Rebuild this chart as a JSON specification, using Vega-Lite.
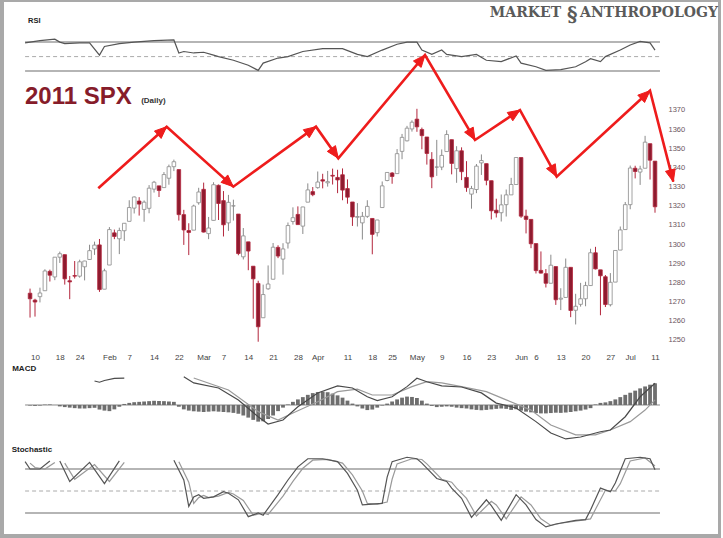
{
"$schema": "https://vega.github.io/schema/vega-lite/v6.json",
"background": "#a9a9a9",
"padding": {"left": 4, "top": 2, "right": 3, "bottom": 4},
"autosize": {"type": "pad"},
"bounds": "flush",
"spacing": 0,
"config": {"view": {"stroke": null, "fill": "white"}, "font": "Liberation Sans", "scale": {"continuousPadding": 0}, "axis": {"grid": false, "labelOverlap": false}},
"datasets": {
"ohlc": [
{"t":4,"o":1274.4,"h":1276.8,"l":1261.7,"c":1271.5},{"t":5,"o":1270.8,"h":1271.5,"l":1262.2,"c":1269.8},{"t":6,"o":1272.6,"h":1277.3,"l":1269.6,"c":1274.5},{"t":7,"o":1275.7,"h":1286.9,"l":1275.7,"c":1286.0},{"t":8,"o":1285.8,"h":1286.7,"l":1280.5,"c":1283.8},{"t":9,"o":1282.9,"h":1293.2,"l":1281.2,"c":1293.2},{"t":10,"o":1293.2,"h":1296.1,"l":1290.2,"c":1295.0},{"t":11,"o":1294.5,"h":1294.6,"l":1278.9,"c":1281.9},{"t":12,"o":1280.9,"h":1283.4,"l":1271.3,"c":1280.3},{"t":13,"o":1283.6,"h":1291.2,"l":1282.1,"c":1283.3},{"t":14,"o":1283.3,"h":1291.9,"l":1282.5,"c":1290.8},{"t":15,"o":1288.2,"h":1291.3,"l":1281.1,"c":1291.2},{"t":16,"o":1292.0,"h":1299.7,"l":1292.0,"c":1296.6},{"t":17,"o":1297.5,"h":1301.3,"l":1294.4,"c":1299.5},{"t":18,"o":1299.6,"h":1302.7,"l":1275.1,"c":1276.3},{"t":19,"o":1276.5,"h":1287.2,"l":1276.5,"c":1286.1},{"t":20,"o":1289.1,"h":1308.9,"l":1289.1,"c":1307.6},{"t":21,"o":1305.9,"h":1307.6,"l":1302.6,"c":1304.0},{"t":22,"o":1302.8,"h":1308.6,"l":1294.8,"c":1307.1},{"t":23,"o":1307.0,"h":1311.0,"l":1301.7,"c":1310.9},{"t":24,"o":1311.9,"h":1322.9,"l":1311.9,"c":1319.1},{"t":25,"o":1318.8,"h":1324.9,"l":1316.0,"c":1324.6},{"t":26,"o":1322.5,"h":1324.5,"l":1314.9,"c":1320.9},{"t":27,"o":1318.1,"h":1322.8,"l":1311.7,"c":1321.9},{"t":28,"o":1318.7,"h":1330.8,"l":1316.1,"c":1329.2},{"t":29,"o":1328.7,"h":1333.0,"l":1326.9,"c":1332.3},{"t":30,"o":1330.4,"h":1330.4,"l":1324.6,"c":1328.0},{"t":31,"o":1329.5,"h":1337.6,"l":1329.5,"c":1336.3},{"t":32,"o":1334.4,"h":1341.5,"l":1331.0,"c":1340.4},{"t":33,"o":1340.4,"h":1344.1,"l":1338.1,"c":1343.0},{"t":34,"o":1338.9,"h":1338.9,"l":1312.3,"c":1315.4},{"t":35,"o":1315.4,"h":1317.9,"l":1299.6,"c":1307.4},{"t":36,"o":1307.1,"h":1310.9,"l":1294.3,"c":1306.1},{"t":37,"o":1307.3,"h":1320.6,"l":1307.3,"c":1319.9},{"t":38,"o":1321.6,"h":1329.4,"l":1320.6,"c":1327.2},{"t":39,"o":1328.6,"h":1332.1,"l":1306.1,"c":1306.3},{"t":40,"o":1305.5,"h":1314.2,"l":1302.6,"c":1308.4},{"t":41,"o":1312.4,"h":1332.3,"l":1312.4,"c":1331.0},{"t":42,"o":1330.7,"h":1331.1,"l":1312.6,"c":1321.2},{"t":43,"o":1322.7,"h":1327.7,"l":1304.0,"c":1310.1},{"t":44,"o":1311.1,"h":1325.7,"l":1306.9,"c":1321.8},{"t":45,"o":1319.9,"h":1323.2,"l":1312.3,"c":1320.0},{"t":46,"o":1315.7,"h":1315.7,"l":1294.2,"c":1295.1},{"t":47,"o":1293.4,"h":1308.4,"l":1292.0,"c":1304.3},{"t":48,"o":1301.2,"h":1301.2,"l":1286.4,"c":1296.4},{"t":49,"o":1288.5,"h":1288.5,"l":1261.1,"c":1281.9},{"t":50,"o":1279.5,"h":1280.9,"l":1249.1,"c":1256.9},{"t":51,"o":1261.6,"h":1278.9,"l":1261.6,"c":1273.7},{"t":52,"o":1276.7,"h":1288.9,"l":1276.2,"c":1279.2},{"t":53,"o":1281.7,"h":1300.6,"l":1281.7,"c":1298.4},{"t":54,"o":1298.3,"h":1299.4,"l":1292.7,"c":1293.8},{"t":55,"o":1292.2,"h":1300.5,"l":1284.1,"c":1297.5},{"t":56,"o":1300.6,"h":1311.3,"l":1297.7,"c":1309.7},{"t":57,"o":1311.8,"h":1319.2,"l":1310.2,"c":1313.8},{"t":58,"o":1315.5,"h":1319.7,"l":1310.2,"c":1310.2},{"t":59,"o":1309.4,"h":1319.5,"l":1305.3,"c":1319.4},{"t":60,"o":1321.9,"h":1331.7,"l":1321.9,"c":1328.3},{"t":61,"o":1327.4,"h":1329.8,"l":1325.0,"c":1325.8},{"t":62,"o":1329.5,"h":1337.9,"l":1328.9,"c":1332.4},{"t":63,"o":1333.6,"h":1336.7,"l":1329.1,"c":1332.9},{"t":64,"o":1332.0,"h":1338.2,"l":1330.0,"c":1332.6},{"t":65,"o":1335.9,"h":1339.4,"l":1331.1,"c":1335.5},{"t":66,"o":1334.8,"h":1338.8,"l":1326.6,"c":1333.5},{"t":67,"o":1336.2,"h":1339.5,"l":1322.9,"c":1328.2},{"t":68,"o":1329.0,"h":1333.8,"l":1321.1,"c":1324.5},{"t":69,"o":1322.0,"h":1322.0,"l":1309.5,"c":1314.2},{"t":70,"o":1314.0,"h":1321.4,"l":1309.2,"c":1314.4},{"t":71,"o":1311.1,"h":1316.8,"l":1302.4,"c":1314.5},{"t":72,"o":1314.5,"h":1322.9,"l":1313.7,"c":1319.7},{"t":73,"o":1313.4,"h":1313.4,"l":1294.7,"c":1305.1},{"t":74,"o":1306.0,"h":1312.7,"l":1304.0,"c":1312.6},{"t":75,"o":1319.1,"h":1332.7,"l":1319.1,"c":1330.4},{"t":76,"o":1333.2,"h":1337.5,"l":1332.8,"c":1337.4},{"t":77,"o":1337.1,"h":1337.6,"l":1331.5,"c":1335.3},{"t":78,"o":1336.8,"h":1349.6,"l":1336.8,"c":1347.2},{"t":79,"o":1348.4,"h":1357.5,"l":1344.3,"c":1355.7},{"t":80,"o":1353.9,"h":1361.7,"l":1353.6,"c":1360.5},{"t":81,"o":1360.1,"h":1364.6,"l":1358.7,"c":1363.6},{"t":82,"o":1365.2,"h":1370.6,"l":1358.6,"c":1361.2},{"t":83,"o":1359.8,"h":1360.8,"l":1349.5,"c":1356.6},{"t":84,"o":1355.9,"h":1355.9,"l":1341.5,"c":1347.3},{"t":85,"o":1344.2,"h":1348.0,"l":1329.2,"c":1335.1},{"t":86,"o":1340.2,"h":1354.4,"l":1335.6,"c":1340.2},{"t":87,"o":1340.2,"h":1349.4,"l":1338.6,"c":1346.3},{"t":88,"o":1348.3,"h":1359.4,"l":1348.3,"c":1357.2},{"t":89,"o":1354.5,"h":1354.5,"l":1336.4,"c":1342.1},{"t":90,"o":1339.4,"h":1351.1,"l":1332.0,"c":1348.7},{"t":91,"o":1348.7,"h":1350.5,"l":1333.4,"c":1337.8},{"t":92,"o":1334.8,"h":1343.3,"l":1327.3,"c":1329.5},{"t":93,"o":1326.1,"h":1330.4,"l":1318.5,"c":1329.0},{"t":94,"o":1328.5,"h":1341.8,"l":1326.6,"c":1340.7},{"t":95,"o":1342.4,"h":1346.8,"l":1336.1,"c":1343.6},{"t":96,"o":1342.0,"h":1342.0,"l":1330.7,"c":1333.3},{"t":97,"o":1333.1,"h":1333.1,"l":1312.9,"c":1317.4},{"t":98,"o":1317.7,"h":1323.7,"l":1313.9,"c":1316.3},{"t":99,"o":1316.4,"h":1325.9,"l":1311.8,"c":1320.5},{"t":100,"o":1320.6,"h":1328.5,"l":1314.4,"c":1325.7},{"t":101,"o":1325.7,"h":1334.6,"l":1325.7,"c":1331.1},{"t":102,"o":1331.1,"h":1345.2,"l":1331.1,"c":1345.2},{"t":103,"o":1345.2,"h":1345.2,"l":1313.7,"c":1314.6},{"t":104,"o":1314.6,"h":1318.0,"l":1305.6,"c":1312.9},{"t":105,"o":1312.9,"h":1312.9,"l":1297.9,"c":1300.2},{"t":106,"o":1300.3,"h":1300.3,"l":1284.7,"c":1286.2},{"t":107,"o":1286.3,"h":1296.2,"l":1284.7,"c":1284.9},{"t":108,"o":1284.6,"h":1287.0,"l":1277.4,"c":1279.6},{"t":109,"o":1279.6,"h":1294.5,"l":1279.6,"c":1289.0},{"t":110,"o":1288.3,"h":1288.3,"l":1268.3,"c":1271.0},{"t":111,"o":1271.3,"h":1277.0,"l":1265.6,"c":1271.8},{"t":112,"o":1272.2,"h":1292.5,"l":1272.2,"c":1287.9},{"t":113,"o":1287.9,"h":1287.9,"l":1261.9,"c":1265.4},{"t":114,"o":1265.5,"h":1274.1,"l":1258.1,"c":1267.6},{"t":115,"o":1268.6,"h":1279.8,"l":1267.4,"c":1271.5},{"t":116,"o":1271.5,"h":1280.4,"l":1267.6,"c":1278.4},{"t":117,"o":1278.4,"h":1297.6,"l":1278.4,"c":1295.5},{"t":118,"o":1295.5,"h":1298.6,"l":1286.8,"c":1287.1},{"t":119,"o":1286.6,"h":1286.6,"l":1262.9,"c":1283.5},{"t":120,"o":1283.0,"h":1283.9,"l":1267.2,"c":1268.5},{"t":121,"o":1268.4,"h":1284.9,"l":1267.5,"c":1280.1},{"t":122,"o":1280.2,"h":1296.8,"l":1280.2,"c":1296.7},{"t":123,"o":1296.9,"h":1309.2,"l":1296.9,"c":1307.4},{"t":124,"o":1307.6,"h":1322.0,"l":1307.6,"c":1320.6},{"t":125,"o":1320.6,"h":1341.0,"l":1318.2,"c":1339.7},{"t":126,"o":1339.6,"h":1340.9,"l":1334.3,"c":1337.9},{"t":127,"o":1337.6,"h":1340.9,"l":1330.9,"c":1339.2},{"t":128,"o":1339.6,"h":1356.5,"l":1339.6,"c":1353.2},{"t":129,"o":1352.4,"h":1352.4,"l":1333.7,"c":1343.8},{"t":130,"o":1343.3,"h":1343.3,"l":1316.4,"c":1319.5}
],
"rsi": [
{"t":3,"v":69},{"t":6,"v":72},{"t":9,"v":74},{"t":10,"v":70},{"t":11,"v":68},{"t":14,"v":69},{"t":16,"v":69},{"t":18,"v":52},{"t":19,"v":64},{"t":22,"v":68},{"t":25,"v":70},{"t":29,"v":72},{"t":33,"v":73},{"t":34,"v":55},{"t":35,"v":57},{"t":37,"v":55},{"t":39,"v":56},{"t":41,"v":52},{"t":42,"v":50},{"t":45,"v":45},{"t":48,"v":38},{"t":50,"v":31},{"t":51,"v":41},{"t":54,"v":48},{"t":56,"v":50},{"t":59,"v":57},{"t":63,"v":61},{"t":67,"v":61},{"t":70,"v":53},{"t":72,"v":50},{"t":75,"v":59},{"t":78,"v":67},{"t":80,"v":70},{"t":82,"v":70},{"t":83,"v":59},{"t":85,"v":53},{"t":87,"v":59},{"t":88,"v":53},{"t":91,"v":50},{"t":94,"v":53},{"t":96,"v":45},{"t":99,"v":43},{"t":102,"v":51},{"t":103,"v":41},{"t":106,"v":36},{"t":108,"v":31},{"t":111,"v":32},{"t":114,"v":36},{"t":116,"v":43},{"t":117,"v":47},{"t":119,"v":43},{"t":120,"v":50},{"t":123,"v":59},{"t":125,"v":66},{"t":127,"v":71},{"t":129,"v":69},{"t":130,"v":59}
],
"macd": [
{"s":1,"t":17,"v":13.7},{"s":1,"t":18,"v":13.0},{"s":1,"t":19,"v":14.0},{"s":1,"t":21,"v":15.2},{"s":1,"t":23,"v":15.3},
{"s":2,"t":35,"v":16.2},{"s":2,"t":37,"v":12.6},{"s":2,"t":42,"v":9.7},{"s":2,"t":46,"v":2.9},{"s":2,"t":50,"v":-6.7},{"s":2,"t":52,"v":-10.9},{"s":2,"t":55,"v":-8.6},{"s":2,"t":58,"v":-1.0},{"s":2,"t":62,"v":6.9},{"s":2,"t":66,"v":10.9},{"s":2,"t":69,"v":9.7},{"s":2,"t":72,"v":4.7},{"s":2,"t":74,"v":2.5},{"s":2,"t":77,"v":4.7},{"s":2,"t":80,"v":10.5},{"s":2,"t":82,"v":15.3},{"s":2,"t":84,"v":13.3},{"s":2,"t":87,"v":10.9},{"s":2,"t":91,"v":10.3},{"s":2,"t":95,"v":6.9},{"s":2,"t":98,"v":1.1},{"s":2,"t":102,"v":-1.7},{"s":2,"t":106,"v":-9.5},{"s":2,"t":109,"v":-16.0},{"s":2,"t":112,"v":-19.4},{"s":2,"t":115,"v":-18.3},{"s":2,"t":119,"v":-15.3},{"s":2,"t":121,"v":-14.3},{"s":2,"t":124,"v":-6.7},{"s":2,"t":127,"v":4.7},{"s":2,"t":130,"v":12.4}
],
"sig": [
{"t":37,"v":15.4},{"t":44,"v":8.6},{"t":50,"v":-3.8},{"t":54,"v":-8.6},{"t":57,"v":-4.6},{"t":62,"v":1.9},{"t":66,"v":7.6},{"t":70,"v":9.1},{"t":73,"v":5.7},{"t":77,"v":5.7},{"t":81,"v":10.5},{"t":84,"v":13.3},{"t":87,"v":12.6},{"t":91,"v":10.5},{"t":96,"v":7.6},{"t":100,"v":2.9},{"t":105,"v":-2.9},{"t":109,"v":-11.4},{"t":114,"v":-17.1},{"t":118,"v":-17.1},{"t":121,"v":-14.3},{"t":125,"v":-9.5},{"t":128,"v":-2.9},{"t":130,"v":2.9}
],
"hist": [
{"t":4,"v":-0.3},{"t":5,"v":-0.5},{"t":6,"v":-0.3},{"t":7,"v":0.2},{"t":8,"v":0.3},{"t":9,"v":0},{"t":10,"v":-0.8},{"t":11,"v":-1.2},{"t":12,"v":-1.5},{"t":13,"v":-1.8},{"t":14,"v":-2},{"t":15,"v":-2},{"t":16,"v":-1.8},{"t":17,"v":-1.6},{"t":18,"v":-2.6},{"t":19,"v":-3.2},{"t":20,"v":-3.5},{"t":21,"v":-2.5},{"t":22,"v":-1},{"t":23,"v":0.6},{"t":24,"v":1.2},{"t":25,"v":1.6},{"t":26,"v":1.8},{"t":27,"v":2},{"t":28,"v":2.2},{"t":29,"v":2.4},{"t":30,"v":2.3},{"t":31,"v":2.2},{"t":32,"v":2},{"t":33,"v":1.8},{"t":34,"v":-1},{"t":35,"v":-2.5},{"t":36,"v":-3.2},{"t":37,"v":-3.6},{"t":38,"v":-3.8},{"t":39,"v":-4},{"t":40,"v":-3.8},{"t":41,"v":-3.6},{"t":42,"v":-3.8},{"t":43,"v":-4},{"t":44,"v":-4.2},{"t":45,"v":-4.5},{"t":46,"v":-5},{"t":47,"v":-6},{"t":48,"v":-7.2},{"t":49,"v":-8.5},{"t":50,"v":-9.5},{"t":51,"v":-9.3},{"t":52,"v":-8},{"t":53,"v":-6},{"t":54,"v":-3.5},{"t":55,"v":-1.5},{"t":56,"v":0.3},{"t":57,"v":1.8},{"t":58,"v":3.2},{"t":59,"v":4.5},{"t":60,"v":5.8},{"t":61,"v":6.8},{"t":62,"v":7.4},{"t":63,"v":7.6},{"t":64,"v":7.3},{"t":65,"v":6.5},{"t":66,"v":5.5},{"t":67,"v":4.2},{"t":68,"v":2.5},{"t":69,"v":0.8},{"t":70,"v":-0.8},{"t":71,"v":-2},{"t":72,"v":-2.9},{"t":73,"v":-2.6},{"t":74,"v":-1.5},{"t":75,"v":-0.3},{"t":76,"v":0.8},{"t":77,"v":2},{"t":78,"v":3.2},{"t":79,"v":4.2},{"t":80,"v":4.8},{"t":81,"v":4.6},{"t":82,"v":4},{"t":83,"v":2.5},{"t":84,"v":0.8},{"t":85,"v":-0.5},{"t":86,"v":-1.2},{"t":87,"v":-1},{"t":88,"v":-0.8},{"t":89,"v":-1},{"t":90,"v":-1.5},{"t":91,"v":-1.8},{"t":92,"v":-2},{"t":93,"v":-2.5},{"t":94,"v":-2.8},{"t":95,"v":-3},{"t":96,"v":-2.8},{"t":97,"v":-2.5},{"t":98,"v":-2.2},{"t":99,"v":-2},{"t":100,"v":-2.2},{"t":101,"v":-2.8},{"t":102,"v":-2.5},{"t":103,"v":-3.2},{"t":104,"v":-3.8},{"t":105,"v":-4.2},{"t":106,"v":-4.6},{"t":107,"v":-4.8},{"t":108,"v":-4.8},{"t":109,"v":-4.6},{"t":110,"v":-4.4},{"t":111,"v":-4.5},{"t":112,"v":-4.3},{"t":113,"v":-4},{"t":114,"v":-3.6},{"t":115,"v":-3.2},{"t":116,"v":-2.6},{"t":117,"v":-1.8},{"t":118,"v":0.3},{"t":119,"v":1.2},{"t":120,"v":1.5},{"t":121,"v":2.2},{"t":122,"v":3.2},{"t":123,"v":4.5},{"t":124,"v":5.8},{"t":125,"v":7},{"t":126,"v":8.2},{"t":127,"v":9.5},{"t":128,"v":10.6},{"t":129,"v":11.6},{"t":130,"v":12.4}
],
"stk": [
{"s":1,"t":3,"v":90},{"s":1,"t":4,"v":80},{"s":1,"t":6,"v":80},{"s":1,"t":8,"v":91},
{"s":2,"t":10,"v":91},{"s":2,"t":12,"v":63},{"s":2,"t":16,"v":89},{"s":2,"t":19,"v":60},{"s":2,"t":22,"v":91},
{"s":3,"t":33,"v":92},{"s":3,"t":35,"v":65},{"s":3,"t":36,"v":29},{"s":3,"t":37,"v":42},{"s":3,"t":38,"v":45},{"s":3,"t":39,"v":40},{"s":3,"t":41,"v":42},{"s":3,"t":43,"v":49},{"s":3,"t":44,"v":47},{"s":3,"t":46,"v":38},{"s":3,"t":48,"v":15},{"s":3,"t":50,"v":20},{"s":3,"t":51,"v":17},{"s":3,"t":54,"v":45},{"s":3,"t":56,"v":65},{"s":3,"t":58,"v":83},{"s":3,"t":60,"v":94},{"s":3,"t":63,"v":94},{"s":3,"t":66,"v":90},{"s":3,"t":68,"v":74},{"s":3,"t":70,"v":51},{"s":3,"t":71,"v":31},{"s":3,"t":73,"v":32},{"s":3,"t":75,"v":33},{"s":3,"t":76,"v":69},{"s":3,"t":77,"v":90},{"s":3,"t":80,"v":96},{"s":3,"t":82,"v":94},{"s":3,"t":83,"v":88},{"s":3,"t":86,"v":67},{"s":3,"t":88,"v":63},{"s":3,"t":89,"v":54},{"s":3,"t":91,"v":40},{"s":3,"t":93,"v":14},{"s":3,"t":96,"v":38},{"s":3,"t":97,"v":30},{"s":3,"t":99,"v":10},{"s":3,"t":102,"v":45},{"s":3,"t":104,"v":31},{"s":3,"t":106,"v":11},{"s":3,"t":108,"v":1},{"s":3,"t":110,"v":5},{"s":3,"t":114,"v":10},{"s":3,"t":116,"v":11},{"s":3,"t":117,"v":24},{"s":3,"t":119,"v":54},{"s":3,"t":121,"v":49},{"s":3,"t":122,"v":61},{"s":3,"t":124,"v":94},{"s":3,"t":127,"v":96},{"s":3,"t":129,"v":94},{"s":3,"t":130,"v":79}
],
"std": [
{"s":1,"t":4,"v":88},{"s":1,"t":5,"v":82},{"s":1,"t":7,"v":80},{"s":1,"t":9,"v":89},
{"s":2,"t":11,"v":88},{"s":2,"t":13,"v":66},{"s":2,"t":17,"v":86},{"s":2,"t":20,"v":63},{"s":2,"t":23,"v":89},
{"s":3,"t":34,"v":90},{"s":3,"t":36,"v":62},{"s":3,"t":37,"v":33},{"s":3,"t":38,"v":41},{"s":3,"t":39,"v":44},{"s":3,"t":40,"v":41},{"s":3,"t":42,"v":43},{"s":3,"t":44,"v":48},{"s":3,"t":45,"v":46},{"s":3,"t":47,"v":37},{"s":3,"t":49,"v":17},{"s":3,"t":51,"v":20},{"s":3,"t":52,"v":18},{"s":3,"t":55,"v":43},{"s":3,"t":57,"v":63},{"s":3,"t":59,"v":81},{"s":3,"t":61,"v":92},{"s":3,"t":64,"v":93},{"s":3,"t":67,"v":88},{"s":3,"t":69,"v":72},{"s":3,"t":71,"v":50},{"s":3,"t":72,"v":33},{"s":3,"t":74,"v":32},{"s":3,"t":76,"v":35},{"s":3,"t":77,"v":66},{"s":3,"t":78,"v":87},{"s":3,"t":81,"v":94},{"s":3,"t":83,"v":93},{"s":3,"t":84,"v":87},{"s":3,"t":87,"v":66},{"s":3,"t":89,"v":62},{"s":3,"t":90,"v":54},{"s":3,"t":92,"v":40},{"s":3,"t":94,"v":16},{"s":3,"t":97,"v":36},{"s":3,"t":98,"v":31},{"s":3,"t":100,"v":12},{"s":3,"t":103,"v":42},{"s":3,"t":105,"v":31},{"s":3,"t":107,"v":12},{"s":3,"t":109,"v":3},{"s":3,"t":111,"v":6},{"s":3,"t":115,"v":10},{"s":3,"t":117,"v":12},{"s":3,"t":118,"v":25},{"s":3,"t":120,"v":51},{"s":3,"t":122,"v":50},{"s":3,"t":123,"v":60},{"s":3,"t":125,"v":91},{"s":3,"t":128,"v":95},{"s":3,"t":130,"v":84}
],
"arrow": [
{"k":1,"t":17.76,"p":1329.13},{"k":2,"t":31.55,"p":1361.27},{"k":3,"t":44.98,"p":1329.97},{"k":4,"t":61.65,"p":1361.27},{"k":5,"t":66.15,"p":1344.78},{"k":6,"t":83.63,"p":1398.67},{"k":7,"t":93.71,"p":1354.33},{"k":8,"t":102.78,"p":1369.98},{"k":9,"t":110.18,"p":1335.19},{"k":10,"t":128.99,"p":1380.05},{"k":11,"t":133.69,"p":1332.58}
],
"heads": [
{"h":1,"k":1,"t":31.55,"p":1361.27},{"h":1,"k":2,"t":30.43,"p":1355.14},{"h":1,"k":3,"t":29.08,"p":1359.01},{"h":1,"k":4,"t":31.55,"p":1361.27},
{"h":2,"k":1,"t":44.98,"p":1329.97},{"h":2,"k":2,"t":42.51,"p":1332.22},{"h":2,"k":3,"t":43.86,"p":1336.10},{"h":2,"k":4,"t":44.98,"p":1329.97},
{"h":3,"k":1,"t":61.65,"p":1361.27},{"h":3,"k":2,"t":60.29,"p":1355.48},{"h":3,"k":3,"t":59.10,"p":1359.70},{"h":3,"k":4,"t":61.65,"p":1361.27},
{"h":4,"k":1,"t":66.15,"p":1344.78},{"h":4,"k":2,"t":63.93,"p":1348.39},{"h":4,"k":3,"t":65.58,"p":1351.40},{"h":4,"k":4,"t":66.15,"p":1344.78},
{"h":5,"k":1,"t":83.63,"p":1398.67},{"h":5,"k":2,"t":82.85,"p":1392.20},{"h":5,"k":3,"t":81.30,"p":1395.55},{"h":5,"k":4,"t":83.63,"p":1398.67},
{"h":6,"k":1,"t":93.71,"p":1354.33},{"h":6,"k":2,"t":91.61,"p":1358.40},{"h":6,"k":3,"t":93.35,"p":1361.05},{"h":6,"k":4,"t":93.71,"p":1354.33},
{"h":7,"k":1,"t":102.78,"p":1369.98},{"h":7,"k":2,"t":101.33,"p":1364.34},{"h":7,"k":3,"t":100.21,"p":1368.68},{"h":7,"k":4,"t":102.78,"p":1369.98},
{"h":8,"k":1,"t":110.18,"p":1335.19},{"h":8,"k":2,"t":108.13,"p":1339.41},{"h":8,"k":3,"t":109.90,"p":1341.93},{"h":8,"k":4,"t":110.18,"p":1335.19},
{"h":9,"k":1,"t":128.99,"p":1380.05},{"h":9,"k":2,"t":127.90,"p":1373.89},{"h":9,"k":3,"t":126.53,"p":1377.73},{"h":9,"k":4,"t":128.99,"p":1380.05},
{"h":10,"k":1,"t":133.69,"p":1332.58},{"h":10,"k":2,"t":132.11,"p":1337.99},{"h":10,"k":3,"t":134.06,"p":1339.29},{"h":10,"k":4,"t":133.69,"p":1332.58}
]
},
"vconcat": [
{
"width": 714, "height": 84,
"layer": [
{"data": {"values": [{"level": 70}, {"level": 30}]}, "mark": {"type": "rule", "color": "#9c9c9c", "strokeWidth": 1.5},
 "encoding": {"x": {"datum": 3, "type": "quantitative", "scale": {"domain": [-1.25, 142.7], "nice": false, "zero": false}, "axis": null}, "x2": {"datum": 131}, "y": {"field": "level", "type": "quantitative", "scale": {"domain": [9.45, 125.3], "nice": false, "zero": false}, "axis": null}}},
{"data": {"values": [{"level": 50}]}, "mark": {"type": "rule", "color": "#aaaaaa", "strokeWidth": 1, "strokeDash": [4, 3]},
 "encoding": {"x": {"datum": 3, "type": "quantitative", "scale": {"domain": [-1.25, 142.7], "nice": false, "zero": false}, "axis": null}, "x2": {"datum": 131}, "y": {"field": "level", "type": "quantitative", "scale": {"domain": [9.45, 125.3], "nice": false, "zero": false}, "axis": null}}},
{"data": {"name": "rsi"}, "mark": {"type": "line", "color": "#555555", "strokeWidth": 1.2},
 "encoding": {"x": {"field": "t", "type": "quantitative", "scale": {"domain": [-1.25, 142.7], "nice": false, "zero": false}, "axis": null}, "y": {"field": "v", "type": "quantitative", "scale": {"domain": [9.45, 125.3], "nice": false, "zero": false}, "axis": null}}},
{"data": {"values": [{"label": "RSI"}]}, "mark": {"type": "text", "align": "left", "baseline": "middle", "fontSize": 7.5, "fontWeight": "bold", "color": "#222222"},
 "encoding": {"x": {"datum": 3.6, "type": "quantitative", "scale": {"domain": [-1.25, 142.7], "nice": false, "zero": false}, "axis": null}, "y": {"datum": 99.1, "type": "quantitative", "scale": {"domain": [9.45, 125.3], "nice": false, "zero": false}, "axis": null}, "text": {"field": "label"}}},
{"data": {"values": [{"label": "MARKET"}]}, "mark": {"type": "text", "align": "left", "baseline": "middle", "font": "DejaVu Serif", "fontSize": 14, "fontWeight": "bold", "color": "#5a5a5a"},
 "encoding": {"x": {"datum": 96.7, "type": "quantitative", "scale": {"domain": [-1.25, 142.7], "nice": false, "zero": false}, "axis": null}, "y": {"datum": 110.8, "type": "quantitative", "scale": {"domain": [9.45, 125.3], "nice": false, "zero": false}, "axis": null}, "text": {"field": "label"}}},
{"data": {"values": [{"label": "§"}]}, "mark": {"type": "text", "align": "center", "baseline": "middle", "font": "DejaVu Serif", "fontSize": 20, "fontWeight": "bold", "color": "#5a5a5a"},
 "encoding": {"x": {"datum": 113.3, "type": "quantitative", "scale": {"domain": [-1.25, 142.7], "nice": false, "zero": false}, "axis": null}, "y": {"datum": 107.5, "type": "quantitative", "scale": {"domain": [9.45, 125.3], "nice": false, "zero": false}, "axis": null}, "text": {"field": "label"}}},
{"data": {"values": [{"label": "ANTHROPOLOGY"}]}, "mark": {"type": "text", "align": "left", "baseline": "middle", "font": "DejaVu Serif", "fontSize": 14, "fontWeight": "bold", "color": "#5a5a5a"},
 "encoding": {"x": {"datum": 114.9, "type": "quantitative", "scale": {"domain": [-1.25, 142.7], "nice": false, "zero": false}, "axis": null}, "y": {"datum": 110.8, "type": "quantitative", "scale": {"domain": [9.45, 125.3], "nice": false, "zero": false}, "axis": null}, "text": {"field": "label"}}}
]
},
{
"width": 714, "height": 276,
"layer": [
{"data": {"name": "ohlc"}, "mark": {"type": "rule", "strokeWidth": 1},
 "encoding": {
  "x": {"field": "t", "type": "quantitative", "scale": {"domain": [-1.25, 142.7], "nice": false, "zero": false, "padding": 0}, "title": null,
   "axis": {"values": [5,10,14,20,24,29,34,39,43,48,53,58,62,68,73,77,82,87,92,97,103,106,111,116,121,125,130], "tickCount": 200, "labelExpr": "['10','18','24','Feb','7','14','22','Mar','7','14','21','28','Apr','11','18','25','May','9','16','23','Jun','6','13','20','27','Jul','11'][indexof([5,10,14,20,24,29,34,39,43,48,53,58,62,68,73,77,82,87,92,97,103,106,111,116,121,125,130], datum.value)]", "labelFontSize": 8, "labelColor": "#444444", "ticks": false, "domain": false, "grid": false, "offset": -10, "labelPadding": 1, "labelOverlap": false, "labelFlush": false}},
  "y": {"field": "l", "type": "quantitative", "scale": {"domain": [1238.52, 1382.5], "nice": false, "zero": false}, "title": null,
   "axis": {"orient": "right", "values": [1250,1260,1270,1280,1290,1300,1310,1320,1330,1340,1350,1360,1370], "tickCount": 200, "format": "d", "offset": -54, "labelPadding": 4, "ticks": false, "domain": false, "grid": false, "labelFontSize": 7.5, "labelColor": "#6b5560", "labelOverlap": false, "labelFlush": false}},
  "y2": {"field": "h"},
  "color": {"condition": {"test": "datum.c < datum.o", "value": "#b3263c"}, "value": "#8a8a8a"}}},
{"data": {"name": "ohlc"}, "mark": {"type": "bar", "size": 3.6, "strokeWidth": 0.8},
 "encoding": {
  "x": {"field": "t", "type": "quantitative", "scale": {"domain": [-1.25, 142.7], "nice": false, "zero": false, "padding": 0}},
  "y": {"field": "o", "type": "quantitative", "scale": {"domain": [1238.52, 1382.5], "nice": false, "zero": false}},
  "y2": {"field": "c"},
  "fill": {"condition": {"test": "datum.c < datum.o", "value": "#8e1b2f"}, "value": "#ffffff"},
  "stroke": {"condition": {"test": "datum.c < datum.o", "value": "#b3263c"}, "value": "#8a8a8a"}}},
{"data": {"values": [{"label": "2011 SPX"}]}, "mark": {"type": "text", "align": "left", "baseline": "middle", "fontSize": 24, "fontWeight": "bold", "color": "#861c2a"},
 "encoding": {"x": {"datum": 2.98, "type": "quantitative", "scale": {"domain": [-1.25, 142.7], "nice": false, "zero": false, "padding": 0}}, "y": {"datum": 1376.8, "type": "quantitative", "scale": {"domain": [1238.52, 1382.5], "nice": false, "zero": false}}, "text": {"field": "label"}}},
{"data": {"values": [{"label": "(Daily)"}]}, "mark": {"type": "text", "align": "left", "baseline": "middle", "fontSize": 8, "fontWeight": "bold", "color": "#333333"},
 "encoding": {"x": {"datum": 26.4, "type": "quantitative", "scale": {"domain": [-1.25, 142.7], "nice": false, "zero": false, "padding": 0}}, "y": {"datum": 1374.8, "type": "quantitative", "scale": {"domain": [1238.52, 1382.5], "nice": false, "zero": false}}, "text": {"field": "label"}}},
{"data": {"name": "arrow"}, "mark": {"type": "line", "color": "#ee1c1c", "strokeWidth": 2.6, "clip": false, "strokeJoin": "miter"},
 "encoding": {"x": {"field": "t", "type": "quantitative", "scale": {"domain": [-1.25, 142.7], "nice": false, "zero": false, "padding": 0}}, "y": {"field": "p", "type": "quantitative", "scale": {"domain": [1238.52, 1382.5], "nice": false, "zero": false}}, "order": {"field": "k"}}},
{"data": {"name": "heads"}, "mark": {"type": "line", "color": "#ee1c1c", "fill": "#ee1c1c", "strokeWidth": 1, "clip": false, "strokeJoin": "miter"},
 "encoding": {"x": {"field": "t", "type": "quantitative", "scale": {"domain": [-1.25, 142.7], "nice": false, "zero": false, "padding": 0}}, "y": {"field": "p", "type": "quantitative", "scale": {"domain": [1238.52, 1382.5], "nice": false, "zero": false}}, "detail": {"field": "h"}, "order": {"field": "k"}}}
]
},
{
"width": 714, "height": 84,
"layer": [
{"data": {"values": [{"level": 0}]}, "mark": {"type": "rule", "color": "#888888", "strokeWidth": 1},
 "encoding": {"x": {"datum": 3, "type": "quantitative", "scale": {"domain": [-1.25, 142.7], "nice": false, "zero": false, "padding": 0}, "axis": null}, "x2": {"datum": 131}, "y": {"field": "level", "type": "quantitative", "scale": {"domain": [-23.43, 24.57], "nice": false, "zero": false}, "axis": null}}},
{"data": {"name": "hist"}, "mark": {"type": "bar", "size": 3.8, "color": "#6e6e6e"},
 "encoding": {"x": {"field": "t", "type": "quantitative", "scale": {"domain": [-1.25, 142.7], "nice": false, "zero": false, "padding": 0}, "axis": null}, "y": {"field": "v", "type": "quantitative", "scale": {"domain": [-23.43, 24.57], "nice": false, "zero": false}, "axis": null}, "y2": {"datum": 0}}},
{"data": {"name": "sig"}, "mark": {"type": "line", "color": "#9a9a9a", "strokeWidth": 1.2},
 "encoding": {"x": {"field": "t", "type": "quantitative", "scale": {"domain": [-1.25, 142.7], "nice": false, "zero": false, "padding": 0}, "axis": null}, "y": {"field": "v", "type": "quantitative", "scale": {"domain": [-23.43, 24.57], "nice": false, "zero": false}, "axis": null}}},
{"data": {"name": "macd"}, "mark": {"type": "line", "color": "#4a4a4a", "strokeWidth": 1.2},
 "encoding": {"x": {"field": "t", "type": "quantitative", "scale": {"domain": [-1.25, 142.7], "nice": false, "zero": false, "padding": 0}, "axis": null}, "y": {"field": "v", "type": "quantitative", "scale": {"domain": [-23.43, 24.57], "nice": false, "zero": false}, "axis": null}, "detail": {"field": "s"}}},
{"data": {"values": [{"label": "MACD"}]}, "mark": {"type": "text", "align": "left", "baseline": "middle", "fontSize": 8, "fontWeight": "bold", "color": "#222222"},
 "encoding": {"x": {"datum": 0.4, "type": "quantitative", "scale": {"domain": [-1.25, 142.7], "nice": false, "zero": false, "padding": 0}, "axis": null}, "y": {"datum": 20.6, "type": "quantitative", "scale": {"domain": [-23.43, 24.57], "nice": false, "zero": false}, "axis": null}, "text": {"field": "label"}}}
]
},
{
"width": 714, "height": 88,
"layer": [
{"data": {"values": [{"level": 80}, {"level": 20}]}, "mark": {"type": "rule", "color": "#9c9c9c", "strokeWidth": 1.5},
 "encoding": {"x": {"datum": 3, "type": "quantitative", "scale": {"domain": [-1.25, 142.7], "nice": false, "zero": false}, "axis": null}, "x2": {"datum": 131}, "y": {"field": "level", "type": "quantitative", "scale": {"domain": [-8.64, 111.37], "nice": false, "zero": false}, "axis": null}}},
{"data": {"values": [{"level": 50}]}, "mark": {"type": "rule", "color": "#aaaaaa", "strokeWidth": 1, "strokeDash": [4, 3]},
 "encoding": {"x": {"datum": 3, "type": "quantitative", "scale": {"domain": [-1.25, 142.7], "nice": false, "zero": false}, "axis": null}, "x2": {"datum": 131}, "y": {"field": "level", "type": "quantitative", "scale": {"domain": [-8.64, 111.37], "nice": false, "zero": false}, "axis": null}}},
{"data": {"name": "std"}, "mark": {"type": "line", "color": "#9a9a9a", "strokeWidth": 1.2},
 "encoding": {"x": {"field": "t", "type": "quantitative", "scale": {"domain": [-1.25, 142.7], "nice": false, "zero": false}, "axis": null}, "y": {"field": "v", "type": "quantitative", "scale": {"domain": [-8.64, 111.37], "nice": false, "zero": false}, "axis": null}, "detail": {"field": "s"}}},
{"data": {"name": "stk"}, "mark": {"type": "line", "color": "#555555", "strokeWidth": 1.2},
 "encoding": {"x": {"field": "t", "type": "quantitative", "scale": {"domain": [-1.25, 142.7], "nice": false, "zero": false}, "axis": null}, "y": {"field": "v", "type": "quantitative", "scale": {"domain": [-8.64, 111.37], "nice": false, "zero": false}, "axis": null}, "detail": {"field": "s"}}},
{"data": {"values": [{"label": "Stochastic"}]}, "mark": {"type": "text", "align": "left", "baseline": "middle", "fontSize": 8, "fontWeight": "bold", "color": "#222222"},
 "encoding": {"x": {"datum": 0.3, "type": "quantitative", "scale": {"domain": [-1.25, 142.7], "nice": false, "zero": false}, "axis": null}, "y": {"datum": 105.9, "type": "quantitative", "scale": {"domain": [-8.64, 111.37], "nice": false, "zero": false}, "axis": null}, "text": {"field": "label"}}}
]
}
]
}
